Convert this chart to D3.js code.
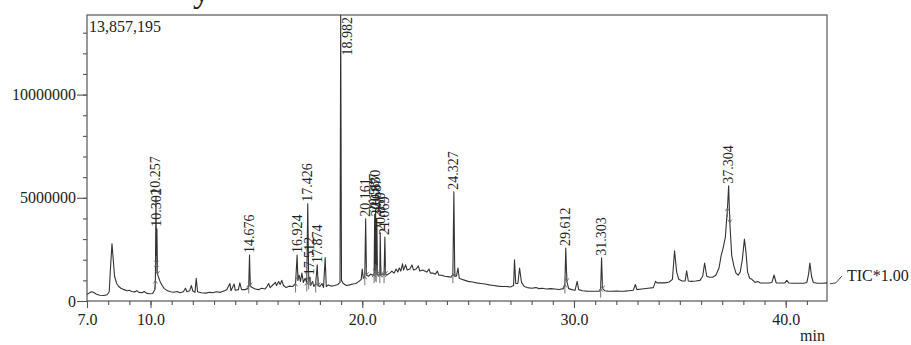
<!DOCTYPE html>
<html>
<head>
<meta charset="utf-8">
<script src="https://cdn.jsdelivr.net/npm/d3@7/dist/d3.min.js"></script>
<style>
  body { margin: 0; background: #fff; }
  svg { display: block; }
  text { font-family: "Liberation Serif", "Times New Roman", serif; fill: #222; }
</style>
</head>
<body>
<svg id="chart" width="911" height="345"></svg>
<script>
// retention time (min) and TIC intensity (x 1e6 counts)
const RT = [
  7.00, 7.10, 7.20, 7.30, 7.45, 7.60, 7.80, 7.95, 8.05, 8.12, 8.18, 8.24, 8.30, 8.40, 8.50, 8.60, 8.75, 8.90,
  9.00, 9.10, 9.25, 9.35, 9.45, 9.60, 9.70, 9.80, 9.95, 10.10, 10.20, 10.23, 10.257, 10.28, 10.302, 10.33,
  10.38, 10.45, 10.55, 10.65, 10.80, 10.95, 11.10, 11.25, 11.40, 11.55, 11.65, 11.72, 11.85, 11.93, 12.00,
  12.10, 12.16, 12.22, 12.40, 12.60, 12.80, 12.95, 13.10, 13.30, 13.50, 13.60, 13.75, 13.80, 13.95, 14.00,
  14.15, 14.22, 14.30, 14.45, 14.60, 14.64, 14.676, 14.71, 14.80, 14.95, 15.10, 15.25, 15.40, 15.50, 15.58,
  15.65, 15.80, 15.90, 15.95, 16.05, 16.12, 16.20, 16.28, 16.40, 16.55, 16.70, 16.85, 16.924, 16.96, 17.02,
  17.08, 17.15, 17.22, 17.30, 17.38, 17.426, 17.47, 17.512, 17.56, 17.65, 17.72, 17.80, 17.874, 17.92, 18.00,
  18.10, 18.17, 18.25, 18.30, 18.40, 18.55, 18.70, 18.85, 18.95, 18.982, 19.02, 19.10, 19.25, 19.40, 19.55,
  19.70, 19.85, 19.95, 20.00, 20.05, 20.12, 20.161, 20.20, 20.30, 20.40, 20.50, 20.56, 20.587, 20.61, 20.630,
  20.66, 20.687, 20.72, 20.78, 20.83, 20.850, 20.88, 20.95, 21.03, 21.069, 21.10, 21.15, 21.30, 21.40, 21.50,
  21.60, 21.68, 21.75, 21.82, 21.90, 21.95, 22.05, 22.12, 22.25, 22.35, 22.42, 22.55, 22.65, 22.72, 22.85,
  22.95, 23.05, 23.15, 23.22, 23.35, 23.45, 23.55, 23.62, 23.75, 23.90, 24.05, 24.20, 24.28, 24.327, 24.37,
  24.45, 24.52, 24.58, 24.70, 24.85, 25.00, 25.20, 25.40, 25.60, 25.80, 26.00, 26.20, 26.40, 26.60, 26.80,
  27.00, 27.15, 27.19, 27.25, 27.35, 27.43, 27.52, 27.65, 27.80, 28.00, 28.20, 28.35, 28.50, 28.70, 28.90,
  29.10, 29.30, 29.50, 29.57, 29.612, 29.66, 29.75, 29.90, 30.05, 30.15, 30.22, 30.40, 30.60, 30.80, 31.00,
  31.20, 31.26, 31.303, 31.35, 31.45, 31.60, 31.80, 32.00, 32.20, 32.40, 32.60, 32.80, 32.90, 32.97, 33.20,
  33.50, 33.75, 33.85, 33.92, 34.10, 34.30, 34.50, 34.65, 34.75, 34.85, 34.95, 35.10, 35.25, 35.32, 35.40,
  35.55, 35.75, 35.95, 36.08, 36.17, 36.27, 36.40, 36.55, 36.70, 36.85, 36.95, 37.05, 37.15, 37.25, 37.304,
  37.36, 37.45, 37.55, 37.65, 37.75, 37.85, 37.95, 38.05, 38.12, 38.20, 38.30, 38.40, 38.55, 38.68, 38.80,
  39.00, 39.20, 39.35, 39.45, 39.55, 39.75, 39.95, 40.05, 40.15, 40.35, 40.60, 40.85, 41.00, 41.08, 41.14,
  41.22, 41.30, 41.50, 41.75, 41.95
];
const TIC = [
  0.32, 0.38, 0.45, 0.42, 0.33, 0.28, 0.27, 0.30, 0.45, 1.80, 2.77, 2.00, 1.20, 0.85, 0.70, 0.62, 0.55, 0.50,
  0.52, 0.46, 0.44, 0.50, 0.42, 0.40, 0.46, 0.38, 0.35, 0.36, 0.55, 1.00, 5.05, 1.80, 3.50, 1.30,
  1.15, 0.95, 0.75, 0.60, 0.50, 0.45, 0.42, 0.46, 0.40, 0.45, 0.62, 0.45, 0.50, 0.75, 0.48,
  0.42, 1.10, 0.45, 0.40, 0.38, 0.42, 0.40, 0.45, 0.42, 0.50, 0.55, 0.85, 0.50, 0.82, 0.52,
  0.55, 0.88, 0.55, 0.55, 0.60, 0.80, 2.23, 0.75, 0.65, 0.58, 0.55, 0.62, 0.58, 0.70, 0.85,
  0.65, 0.80, 0.90, 0.75, 0.95, 0.80, 1.00, 0.75, 0.65, 0.72, 0.70, 0.85, 2.23, 1.00, 1.25,
  0.95, 1.35, 0.90, 1.10, 0.90, 4.71, 1.00, 1.15, 0.75, 0.95, 0.70, 0.85, 1.75, 0.75, 0.70,
  0.85, 0.65, 2.10, 0.70, 0.78, 0.72, 0.75, 0.80, 0.90, 13.86, 1.00, 0.85, 0.75, 0.78, 0.82,
  0.85, 0.95, 1.05, 1.55, 1.10, 1.20, 3.98, 1.25, 1.20, 1.30, 1.25, 1.30, 4.20, 1.40, 4.40,
  1.35, 4.00, 1.30, 1.25, 1.30, 3.30, 1.25, 1.30, 1.30, 3.10, 1.30, 1.25, 1.35, 1.45, 1.35,
  1.55, 1.40, 1.60, 1.45, 1.80, 1.50, 1.75, 1.50, 1.55, 1.75, 1.50, 1.55, 1.70, 1.45, 1.50,
  1.45, 1.40, 1.55, 1.35, 1.35, 1.30, 1.45, 1.25, 1.25, 1.20, 1.18, 1.15, 1.30, 5.29, 1.20,
  1.20, 1.60, 1.10, 1.05, 1.00, 0.95, 0.92, 0.88, 0.85, 0.82, 0.78, 0.75, 0.72, 0.70, 0.70,
  0.68, 0.75, 2.00, 0.85, 0.85, 1.60, 0.90, 0.70, 0.65, 0.62, 0.65, 0.60, 0.62, 0.58, 0.60,
  0.58, 0.56, 0.60, 0.80, 2.57, 0.95, 0.60, 0.55, 0.52, 0.95, 0.55, 0.50, 0.48, 0.47, 0.47,
  0.48, 0.60, 2.09, 0.60, 0.50, 0.48, 0.47, 0.48, 0.47, 0.48, 0.50, 0.52, 0.80, 0.55, 0.58,
  0.62, 0.65, 0.95, 0.88, 0.88, 0.88, 0.92, 1.05, 2.43, 1.40, 1.05, 0.97, 0.97, 1.46, 0.97,
  0.95, 0.97, 1.00, 1.20, 1.84, 1.20, 1.15, 1.15, 1.25, 1.60, 2.20, 2.60, 3.10, 4.50, 5.58,
  3.80, 2.20, 1.70, 1.35, 1.25, 1.40, 2.00, 3.00, 2.40, 1.40, 1.10, 1.05, 0.90, 0.95, 0.87,
  0.87, 0.87, 0.90, 1.26, 0.88, 0.87, 0.87, 1.00, 0.87, 0.86, 0.86, 0.86, 0.90, 1.30, 1.84,
  1.20, 0.90, 0.86, 0.86, 0.88
];

// labelled peaks
const PEAK_LABELS = ["10.257", "10.302", "14.676", "16.924", "17.426", "17.512", "17.874", "18.982",
  "20.161", "20.587", "20.630", "20.687", "20.850", "21.069", "24.327", "29.612", "31.303", "37.304"];
const PEAK_RT = [10.257, 10.302, 14.676, 16.924, 17.426, 17.512, 17.874, 18.982,
  20.161, 20.587, 20.630, 20.687, 20.850, 21.069, 24.327, 29.612, 31.303, 37.304];
const PEAK_TOP = [5.05, 3.50, 2.23, 2.23, 4.71, 1.15, 1.75, 13.86,
  3.98, 4.20, 4.40, 4.00, 3.30, 3.10, 5.29, 2.57, 2.09, 5.58];

const Y_MAX = 13.857195;               // full scale, x 1e6
const Y_TICKS = [0, 5, 10];
const Y_TICK_LABELS = ["0", "5000000", "10000000"];
const X_TICKS = [7, 10, 20, 30, 40];
const MAX_LABEL = "13,857,195";
const TRACE_LABEL = "TIC*1.00";

const svg = d3.select("#chart");
const plotL = 87, plotR = 827, plotT = 15, plotB = 301;

const x = d3.scaleLinear().domain([7, 41.95]).range([plotL, plotR]);
const y = d3.scaleLinear().domain([0, Y_MAX]).range([plotB, plotT]);

svg.append("defs").append("clipPath").attr("id", "plot")
  .append("rect").attr("x", plotL).attr("y", plotT).attr("width", plotR - plotL).attr("height", plotB - plotT);

// caption remnant cut off at the top edge
svg.append("text").attr("x", 193).attr("y", 2).attr("font-size", 34).text("y");

// frame
svg.append("rect")
  .attr("x", plotL).attr("y", plotT).attr("width", plotR - plotL).attr("height", plotB - plotT)
  .attr("fill", "none").attr("stroke", "#555").attr("stroke-width", 1.2);

// y axis
const yMinor = svg.append("g").attr("transform", `translate(${plotL},0)`)
  .call(d3.axisLeft(y).tickValues(d3.range(1, 14)).tickSize(4).tickFormat(""));
const yMajor = svg.append("g").attr("transform", `translate(${plotL},0)`)
  .call(d3.axisLeft(y).tickValues(Y_TICKS).tickSize(10).tickPadding(1)
    .tickFormat((d, i) => Y_TICK_LABELS[i]));

// x axis
const xMinor = svg.append("g").attr("transform", `translate(0,${plotB})`)
  .call(d3.axisBottom(x).tickValues(d3.range(8, 42)).tickSize(4).tickFormat(""));
const xMajor = svg.append("g").attr("transform", `translate(0,${plotB})`)
  .call(d3.axisBottom(x).tickValues(X_TICKS).tickSize(7).tickPadding(6).tickFormat(d3.format(".1f")));

[yMinor, yMajor, xMinor, xMajor].forEach(g => {
  g.select(".domain").remove();
  g.selectAll("line").attr("stroke", "#555").attr("stroke-width", 1.1);
  g.selectAll("text").attr("font-size", 16).attr("fill", "#222")
    .style("font-family", '"Liberation Serif", "Times New Roman", serif');
});

svg.append("text").attr("x", 800).attr("y", 341).attr("font-size", 16).text("min");

// trace
const traceData = RT.map((t, i) => [t, TIC[i]]);
const line = d3.line().x(d => x(d[0])).y(d => y(Math.min(d[1], Y_MAX + 0.2)));
svg.append("path")
  .datum(traceData)
  .attr("clip-path", "url(#plot)")
  .attr("fill", "none")
  .attr("stroke", "#333")
  .attr("stroke-width", 1.1)
  .attr("stroke-linejoin", "round")
  .attr("d", line);

// integration start / end markers at the base of each labelled peak
const markers = svg.append("g").attr("stroke", "#666").attr("fill", "none").attr("stroke-width", 0.9);
PEAK_RT.forEach((rt, i) => {
  if (PEAK_TOP[i] >= Y_MAX) return;
  const k = RT.indexOf(rt);
  const s = traceData[k - 1], e = traceData[k + 1];
  const sx = x(s[0]), sy = y(s[1]);
  markers.append("path").attr("d", `M${sx},${sy + 9} L${sx},${sy} M${sx - 2},${sy + 3} L${sx},${sy} L${sx + 2},${sy + 3}`);
  const ex = x(e[0]), ey = y(e[1]);
  markers.append("path").attr("d", `M${ex},${ey - 8} L${ex},${ey} M${ex - 2},${ey - 3} L${ex},${ey} L${ex + 2},${ey - 3}`);
});

// max intensity
svg.append("text").attr("x", plotL + 2).attr("y", plotT + 17).attr("font-size", 16).text(MAX_LABEL);

// peak labels (rotated, reading upward)
PEAK_LABELS.forEach((lab, i) => {
  const px = x(PEAK_RT[i]);
  const clipped = PEAK_TOP[i] >= Y_MAX;
  const tx = clipped ? px + 7 : px;
  const ty = clipped ? plotT + 2 : y(PEAK_TOP[i]) - 2;
  svg.append("text")
    .attr("transform", `translate(${tx},${ty}) rotate(-90)`)
    .attr("text-anchor", clipped ? "end" : "start")
    .attr("dominant-baseline", "central")
    .attr("font-size", 14)
    .text(lab);
});

// trace name with leader
const endX = x(RT[RT.length - 1]), endY = y(TIC[TIC.length - 1]);
svg.append("path")
  .attr("d", `M${endX + 3},${endY + 1} L${endX + 9},${endY} L${endX + 15},${endY - 7}`)
  .attr("fill", "none").attr("stroke", "#444").attr("stroke-width", 1);
svg.append("text").attr("x", endX + 20).attr("y", endY - 7)
  .attr("dominant-baseline", "central").attr("font-size", 16).text(TRACE_LABEL);
</script>
</body>
</html>
